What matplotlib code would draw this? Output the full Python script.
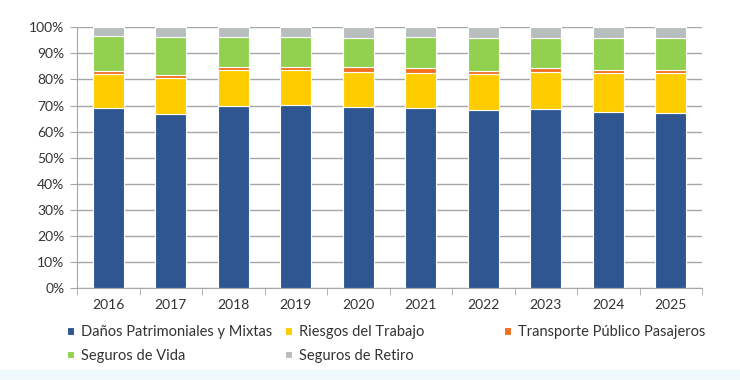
import matplotlib
matplotlib.use('Agg')
import numpy as np
import matplotlib.pyplot as plt
from matplotlib.patches import Rectangle
from matplotlib.ticker import PercentFormatter

years = ['2016', '2017', '2018', '2019', '2020', '2021', '2022', '2023', '2024', '2025']
danos = [69.2, 66.7, 69.8, 70.2, 69.3, 69.2, 68.1, 68.5, 67.6, 67.2]
riesgos = [12.8, 13.8, 13.8, 13.4, 13.7, 13.4, 13.9, 14.5, 14.7, 15.1]
transporte = [1.4, 1.1, 1.3, 1.3, 1.6, 1.6, 1.3, 1.2, 1.3, 1.4]
vida = [13.3, 14.8, 11.5, 11.5, 11.4, 11.9, 12.7, 11.8, 12.4, 12.3]
retiro = [3.3, 3.6, 3.6, 3.6, 4.0, 3.9, 4.0, 4.0, 4.0, 4.0]

series = [
    ('Daños Patrimoniales y Mixtas', danos, '#2F5690'),
    ('Riesgos del Trabajo', riesgos, '#FFCC00'),
    ('Transporte Público Pasajeros', transporte, '#F07020'),
    ('Seguros de Vida', vida, '#92D050'),
    ('Seguros de Retiro', retiro, '#B8BEBE'),
]

plt.rcParams['font.family'] = ['Lato', 'DejaVu Sans']
txt = '#333333'
grid = '#A6A6A6'

fig = plt.figure(figsize=(7.4, 3.8), dpi=100)
fig.patches.append(Rectangle((0, 0), 1, 10 / 380, transform=fig.transFigure,
                             color='#F0FAFC', zorder=0))
ax = fig.add_axes([77 / 740, 92 / 380, 625 / 740, 260.7 / 380])

x = np.arange(len(years))
bottom = np.zeros(len(years))
handles = {}
for name, vals, col in series:
    v = np.array(vals)
    b = ax.bar(x, v, 0.5, bottom=bottom, color=col, edgecolor='white',
               linewidth=0.8, zorder=3, label=name)
    handles[name] = b
    bottom += v

ax.set_xlim(-0.5, len(years) - 0.5)
ax.set_ylim(0, 100)
ax.set_yticks(np.arange(0, 101, 10))
ax.yaxis.set_major_formatter(PercentFormatter(decimals=0))
ax.yaxis.grid(True, color=grid, linewidth=1, zorder=0)
ax.set_xticks(x)
ax.set_xticklabels(years)
ax.set_xticks(np.arange(-0.5, len(years), 1), minor=True)
ax.tick_params(axis='x', which='major', length=0, pad=8, labelsize=10, colors=txt)
ax.tick_params(axis='x', which='minor', length=5, color=grid, direction='out')
ax.tick_params(axis='y', length=5, color=grid, labelsize=10, colors=txt, pad=4)
for s in ['top', 'right']:
    ax.spines[s].set_visible(False)
for s in ['left', 'bottom']:
    ax.spines[s].set_color(grid)

# legend in three fixed columns, like the original
cols = [['Daños Patrimoniales y Mixtas', 'Seguros de Vida'],
        ['Riesgos del Trabajo', 'Seguros de Retiro'],
        ['Transporte Público Pasajeros']]
xs = [60, 278, 497]
for names, xp in zip(cols, xs):
    leg = fig.legend([handles[n] for n in names], names, loc='upper left',
                     bbox_to_anchor=(xp / 740, 1 - 318 / 380), frameon=False,
                     fontsize=10.5, handlelength=0.45, handleheight=0.45,
                     handletextpad=0.5, labelspacing=0.65, borderpad=0,
                     labelcolor=txt)

fig.savefig('out.png', dpi=100)
